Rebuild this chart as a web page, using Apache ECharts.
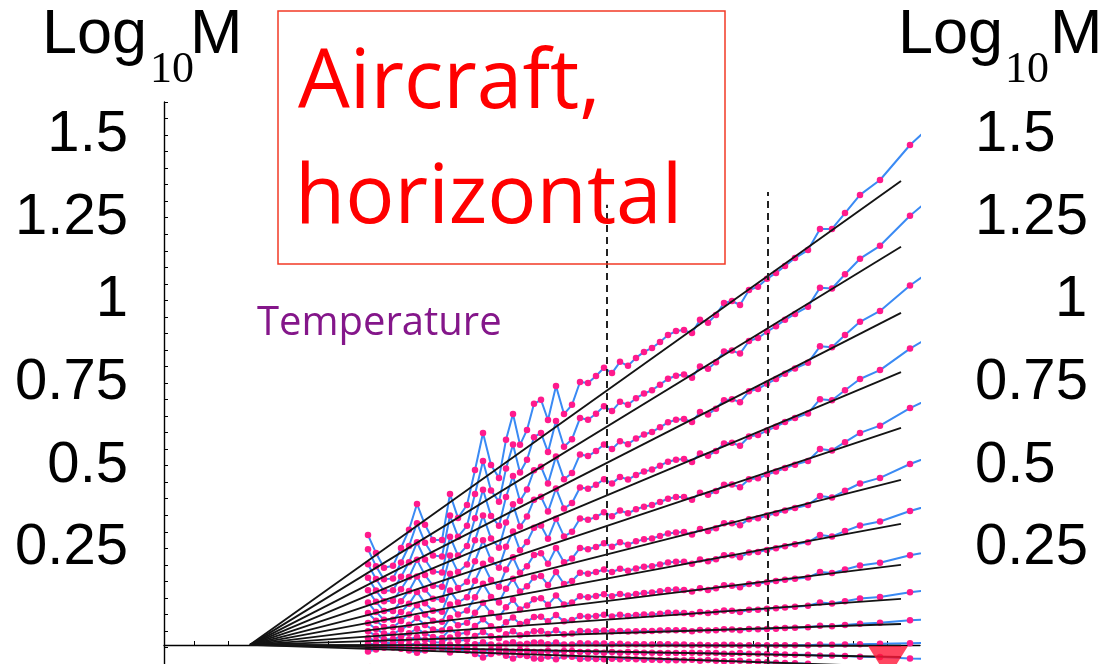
<!DOCTYPE html>
<html><head><meta charset="utf-8">
<script src="https://cdn.jsdelivr.net/npm/echarts@6/dist/echarts.min.js"></script>
<style>html,body{margin:0;padding:0;background:#fff}#c{width:1101px;height:664px}</style>
</head><body><div id="c"></div>
<script>
// log10 of lag (axis units)
const logLag = [2.04,2.12,2.20,2.29,2.37,2.45,2.53,2.61,2.69,2.78,2.86,2.94,3.03,3.11,3.19,3.27,3.35,3.42,3.49,3.56,3.63,3.70,3.77,3.84,3.92,4.00,4.08,4.16,4.24,4.32,4.40,4.48,4.56,4.64,4.72,4.80,4.88,4.96,5.04,5.12,5.20,5.28,5.36,5.44,5.52,5.60,5.68,5.76,5.85,5.94,6.03,6.12,6.21,6.31,6.44,6.56,6.68,6.81,6.96,7.16,7.46,7.71];

// measured log10 M for each moment (top to bottom)
const logM1 = [0.290,0.236,0.191,0.197,0.251,0.306,0.384,0.321,0.275,0.275,0.414,0.342,0.381,0.487,0.599,0.502,0.463,0.578,0.656,0.563,0.608,0.687,0.699,0.638,0.741,0.656,0.684,0.753,0.750,0.771,0.796,0.780,0.814,0.802,0.826,0.844,0.856,0.874,0.895,0.907,0.910,0.901,0.941,0.932,0.956,0.992,0.998,0.986,1.031,1.041,1.065,1.083,1.104,1.128,1.152,1.216,1.216,1.264,1.319,1.364,1.470,1.540];
const logM2 = [0.247,0.196,0.156,0.159,0.207,0.257,0.326,0.267,0.228,0.225,0.349,0.285,0.318,0.414,0.514,0.425,0.391,0.491,0.564,0.479,0.518,0.586,0.599,0.541,0.635,0.557,0.580,0.644,0.639,0.657,0.680,0.665,0.693,0.684,0.704,0.718,0.728,0.745,0.763,0.772,0.776,0.766,0.800,0.793,0.813,0.845,0.848,0.839,0.877,0.886,0.905,0.922,0.941,0.959,0.981,1.038,1.036,1.079,1.126,1.165,1.256,1.319];
const logM3 = [0.202,0.157,0.121,0.123,0.164,0.208,0.268,0.216,0.180,0.177,0.285,0.228,0.257,0.341,0.427,0.348,0.318,0.405,0.469,0.393,0.428,0.486,0.497,0.446,0.528,0.459,0.478,0.534,0.529,0.544,0.564,0.550,0.574,0.565,0.582,0.594,0.602,0.616,0.631,0.639,0.641,0.632,0.662,0.655,0.672,0.698,0.701,0.692,0.725,0.732,0.748,0.762,0.778,0.794,0.811,0.861,0.858,0.895,0.935,0.968,1.045,1.098];
const logM4 = [0.161,0.122,0.090,0.091,0.126,0.163,0.215,0.169,0.137,0.134,0.228,0.178,0.201,0.274,0.349,0.280,0.252,0.328,0.383,0.316,0.346,0.397,0.406,0.361,0.431,0.370,0.387,0.434,0.430,0.442,0.459,0.446,0.466,0.458,0.472,0.482,0.488,0.500,0.512,0.518,0.520,0.511,0.537,0.530,0.544,0.567,0.569,0.560,0.588,0.593,0.606,0.618,0.632,0.644,0.658,0.701,0.698,0.728,0.762,0.789,0.854,0.899];
const logM5 = [0.123,0.088,0.060,0.060,0.090,0.121,0.165,0.125,0.097,0.094,0.173,0.130,0.149,0.211,0.274,0.215,0.191,0.255,0.301,0.244,0.269,0.312,0.319,0.279,0.339,0.286,0.300,0.340,0.336,0.345,0.359,0.347,0.364,0.356,0.368,0.376,0.381,0.390,0.400,0.405,0.405,0.397,0.418,0.412,0.423,0.442,0.443,0.435,0.459,0.462,0.473,0.482,0.493,0.503,0.514,0.550,0.546,0.571,0.599,0.621,0.674,0.710];
const logM6 = [0.086,0.057,0.034,0.034,0.057,0.082,0.118,0.084,0.061,0.058,0.122,0.086,0.102,0.152,0.203,0.154,0.134,0.186,0.223,0.176,0.196,0.230,0.235,0.203,0.251,0.208,0.219,0.251,0.247,0.254,0.265,0.255,0.268,0.261,0.271,0.277,0.280,0.287,0.295,0.298,0.299,0.292,0.308,0.302,0.311,0.326,0.326,0.320,0.338,0.341,0.349,0.356,0.364,0.372,0.381,0.408,0.404,0.424,0.446,0.463,0.505,0.533];
const logM7 = [0.054,0.031,0.012,0.011,0.030,0.050,0.078,0.050,0.031,0.028,0.080,0.050,0.062,0.102,0.143,0.103,0.086,0.128,0.158,0.119,0.135,0.162,0.166,0.139,0.178,0.142,0.151,0.176,0.173,0.178,0.186,0.178,0.188,0.182,0.189,0.194,0.196,0.201,0.207,0.209,0.209,0.203,0.216,0.211,0.217,0.229,0.229,0.223,0.237,0.239,0.245,0.250,0.256,0.262,0.268,0.290,0.286,0.302,0.319,0.331,0.363,0.384];
const logM8 = [0.024,0.006,-0.008,-0.009,0.004,0.019,0.039,0.018,0.004,0.001,0.039,0.017,0.025,0.055,0.085,0.054,0.041,0.072,0.094,0.065,0.077,0.096,0.099,0.079,0.107,0.080,0.086,0.105,0.102,0.106,0.111,0.105,0.112,0.107,0.112,0.115,0.116,0.120,0.124,0.125,0.124,0.119,0.129,0.124,0.129,0.138,0.137,0.132,0.142,0.143,0.147,0.151,0.155,0.158,0.162,0.178,0.175,0.186,0.198,0.206,0.229,0.243];
const logM9 = [-0.001,-0.014,-0.025,-0.025,-0.017,-0.007,0.007,-0.008,-0.018,-0.021,0.005,-0.010,-0.005,0.015,0.035,0.014,0.005,0.026,0.041,0.021,0.028,0.042,0.043,0.029,0.048,0.029,0.033,0.045,0.043,0.045,0.049,0.044,0.049,0.045,0.048,0.050,0.050,0.052,0.055,0.055,0.054,0.051,0.057,0.054,0.057,0.062,0.061,0.057,0.064,0.064,0.067,0.069,0.071,0.073,0.076,0.086,0.083,0.090,0.098,0.103,0.117,0.126];
const logM10 = [-0.021,-0.030,-0.036,-0.037,-0.032,-0.026,-0.018,-0.027,-0.034,-0.035,-0.020,-0.030,-0.027,-0.015,-0.003,-0.016,-0.022,-0.010,-0.001,-0.013,-0.009,-0.001,0.000,-0.009,0.002,-0.010,-0.008,0.000,-0.002,-0.001,0.001,-0.002,0.000,-0.002,-0.001,0.000,0.000,0.001,0.002,0.002,0.002,-0.001,0.003,0.001,0.002,0.005,0.004,0.002,0.006,0.005,0.006,0.007,0.009,0.010,0.011,0.016,0.014,0.018,0.022,0.025,0.032,0.037];
const logM11 = [-0.038,-0.042,-0.046,-0.047,-0.044,-0.042,-0.038,-0.043,-0.047,-0.048,-0.041,-0.046,-0.045,-0.040,-0.034,-0.041,-0.044,-0.038,-0.034,-0.041,-0.039,-0.035,-0.035,-0.040,-0.035,-0.041,-0.041,-0.037,-0.038,-0.038,-0.038,-0.040,-0.039,-0.041,-0.040,-0.040,-0.041,-0.040,-0.040,-0.041,-0.041,-0.043,-0.042,-0.043,-0.043,-0.042,-0.042,-0.044,-0.043,-0.043,-0.043,-0.043,-0.043,-0.043,-0.043,-0.041,-0.042,-0.041,-0.040,-0.039,-0.037,-0.036];
const logM12 = [-0.053,-0.050,-0.047,-0.047,-0.049,-0.051,-0.055,-0.051,-0.048,-0.048,-0.054,-0.050,-0.052,-0.057,-0.062,-0.057,-0.054,-0.060,-0.063,-0.058,-0.060,-0.064,-0.064,-0.060,-0.065,-0.061,-0.061,-0.064,-0.064,-0.064,-0.066,-0.064,-0.066,-0.064,-0.065,-0.066,-0.066,-0.067,-0.067,-0.067,-0.067,-0.066,-0.067,-0.067,-0.067,-0.069,-0.069,-0.067,-0.069,-0.069,-0.070,-0.070,-0.071,-0.072,-0.072,-0.075,-0.074,-0.076,-0.078,-0.079,-0.083,-0.085];
const logM13 = [-0.062,-0.056,-0.051,-0.050,-0.054,-0.059,-0.066,-0.059,-0.054,-0.052,-0.065,-0.057,-0.060,-0.070,-0.080,-0.070,-0.065,-0.075,-0.083,-0.073,-0.076,-0.083,-0.084,-0.077,-0.086,-0.077,-0.078,-0.085,-0.083,-0.085,-0.086,-0.084,-0.086,-0.084,-0.086,-0.087,-0.087,-0.088,-0.089,-0.089,-0.089,-0.087,-0.090,-0.088,-0.090,-0.092,-0.092,-0.090,-0.093,-0.093,-0.095,-0.096,-0.097,-0.098,-0.099,-0.104,-0.103,-0.106,-0.110,-0.112,-0.119,-0.123];

// fitted lines: common origin (outer scale) and end values
const fitOrigin = [0.86, -0.042];
const fitEndX = 7.37;
const fitEndY = [1.361,1.162,0.962,0.783,0.614,0.457,0.324,0.200,0.097,0.021,-0.045,-0.079,-0.109];

// dashed scale-break markers
const breakX = [4.43, 6.04];
const breakTop = [1.289, 1.328];
const breakBottom = -0.1;

// tick labels / tick positions
const yLabelValues = [0.25, 0.5, 0.75, 1, 1.25, 1.5];
const xTickValues = [0.30, 0.64, 1.64, 1.96, 4.91, 5.89, 6.89, 7.23];

// red triangle markers
const markerDown = [7.24, -0.094];
const markerUp = [2.06, -0.135];

const measured = [logM1,logM2,logM3,logM4,logM5,logM6,logM7,logM8,logM9,logM10,logM11,logM12,logM13];

const BLUE = '#3a8af4', DOT = '#ff1a8c', BLACK = '#141414';
const findLabel = v => yLabelValues.find(l => Math.abs(l - v) < 1e-6);
const leftFmt = v => { const h = findLabel(v); return h === undefined ? '' : String(h); };
const rightFmt = v => { const h = findLabel(v); return h === undefined ? '' : (h === 1 ? '{one|1}' : String(h)); };

const series = [];
measured.forEach(arr => series.push({
  type: 'line', data: logLag.map((x, j) => [x, arr[j]]),
  symbol: 'circle', symbolSize: 6.5, showSymbol: true,
  lineStyle: { color: BLUE, width: 2 }, itemStyle: { color: DOT, borderWidth: 0 },
  z: 2, silent: true, animation: false
}));
fitEndY.forEach(e => series.push({
  type: 'line', data: [fitOrigin, [fitEndX, e]], symbol: 'none',
  lineStyle: { color: BLACK, width: 1.9 }, z: 3, silent: true, animation: false
}));
breakX.forEach((x, i) => series.push({
  type: 'line', data: [[x, breakBottom], [x, breakTop[i]]], symbol: 'none',
  lineStyle: { color: '#222', width: 2, type: [7, 5] }, z: 4, silent: true, animation: false
}));
series.push({ type: 'scatter', data: [markerDown], symbol: 'triangle', symbolRotate: 180, symbolSize: [40, 32],
  itemStyle: { color: '#ff1838' }, clip: false, z: 5, silent: true, animation: false });
series.push({ type: 'scatter', data: [markerUp], symbol: 'triangle', symbolSize: [14, 24],
  itemStyle: { color: '#ff1838' }, clip: false, z: 5, silent: true, animation: false });

const axisFont = { fontSize: 58, fontFamily: '"Liberation Sans", Arial, sans-serif', color: '#000' };

const chart = echarts.init(document.getElementById('c'), null, { renderer: 'canvas' });
chart.setOption({
  animation: false,
  backgroundColor: '#fff',
  grid: { left: 164, right: 181, top: 102, bottom: 0, containLabel: false },
  xAxis: {
    type: 'value', min: 0, max: 7.56, offset: -19,
    axisLine: { show: true, onZero: false, lineStyle: { color: '#000', width: 1.4 } },
    axisTick: { show: true, inside: true, length: 4, customValues: xTickValues, lineStyle: { color: '#000' } },
    axisLabel: { show: false }, splitLine: { show: false }
  },
  yAxis: [
    { type: 'value', min: -0.1, max: 1.6, interval: 0.05, position: 'left',
      axisLine: { show: true, onZero: false, lineStyle: { color: '#000', width: 1.4 } },
      axisTick: { show: true, inside: true, length: 4, lineStyle: { color: '#000' } },
      axisLabel: Object.assign({ margin: 36, formatter: leftFmt }, axisFont),
      splitLine: { show: false } },
    { type: 'value', min: -0.1, max: 1.6, interval: 0.05, position: 'right',
      axisLine: { show: false }, axisTick: { show: false },
      axisLabel: Object.assign({ margin: 55, formatter: rightFmt,
        rich: { one: { fontSize: 58, fontFamily: '"Liberation Sans", Arial, sans-serif', color: '#000', padding: [0, 0, 0, 80] } } }, axisFont),
      splitLine: { show: false } }
  ],
  series: series,
  graphic: [
    { type: 'rect', shape: { x: 278, y: 11, width: 447, height: 253 },
      style: { fill: 'rgba(0,0,0,0)', stroke: '#f23a26', lineWidth: 1.5 }, z: 10 },
    { type: 'text', x: 298, y: 85, z: 11, style: { text: 'Aircraft,', font: '82px "Open Sans"', fill: '#ff0000', textVerticalAlign: 'middle' } },
    { type: 'text', x: 295, y: 200, z: 11, style: { text: 'horizontal', font: '82px "Open Sans"', fill: '#ff0000', textVerticalAlign: 'middle' } },
    { type: 'text', x: 257, y: 324, z: 11, style: { text: 'Temperature', font: '40px "Open Sans"', fill: '#84168a', textVerticalAlign: 'middle' } },
    { type: 'text', x: 42, y: 36, z: 11, style: { text: 'Log', font: '63px "Liberation Sans"', fill: '#000', textVerticalAlign: 'middle' } },
    { type: 'text', x: 150, y: 70, z: 11, style: { text: '10', font: '44px "Liberation Serif"', fill: '#000', textVerticalAlign: 'middle' } },
    { type: 'text', x: 190, y: 36, z: 11, style: { text: 'M', font: '63px "Liberation Sans"', fill: '#000', textVerticalAlign: 'middle' } },
    { type: 'text', x: 898, y: 36, z: 11, style: { text: 'Log', font: '63px "Liberation Sans"', fill: '#000', textVerticalAlign: 'middle' } },
    { type: 'text', x: 1005, y: 70, z: 11, style: { text: '10', font: '44px "Liberation Serif"', fill: '#000', textVerticalAlign: 'middle' } },
    { type: 'text', x: 1050, y: 36, z: 11, style: { text: 'M', font: '63px "Liberation Sans"', fill: '#000', textVerticalAlign: 'middle' } }
  ]
});
</script></body></html>
